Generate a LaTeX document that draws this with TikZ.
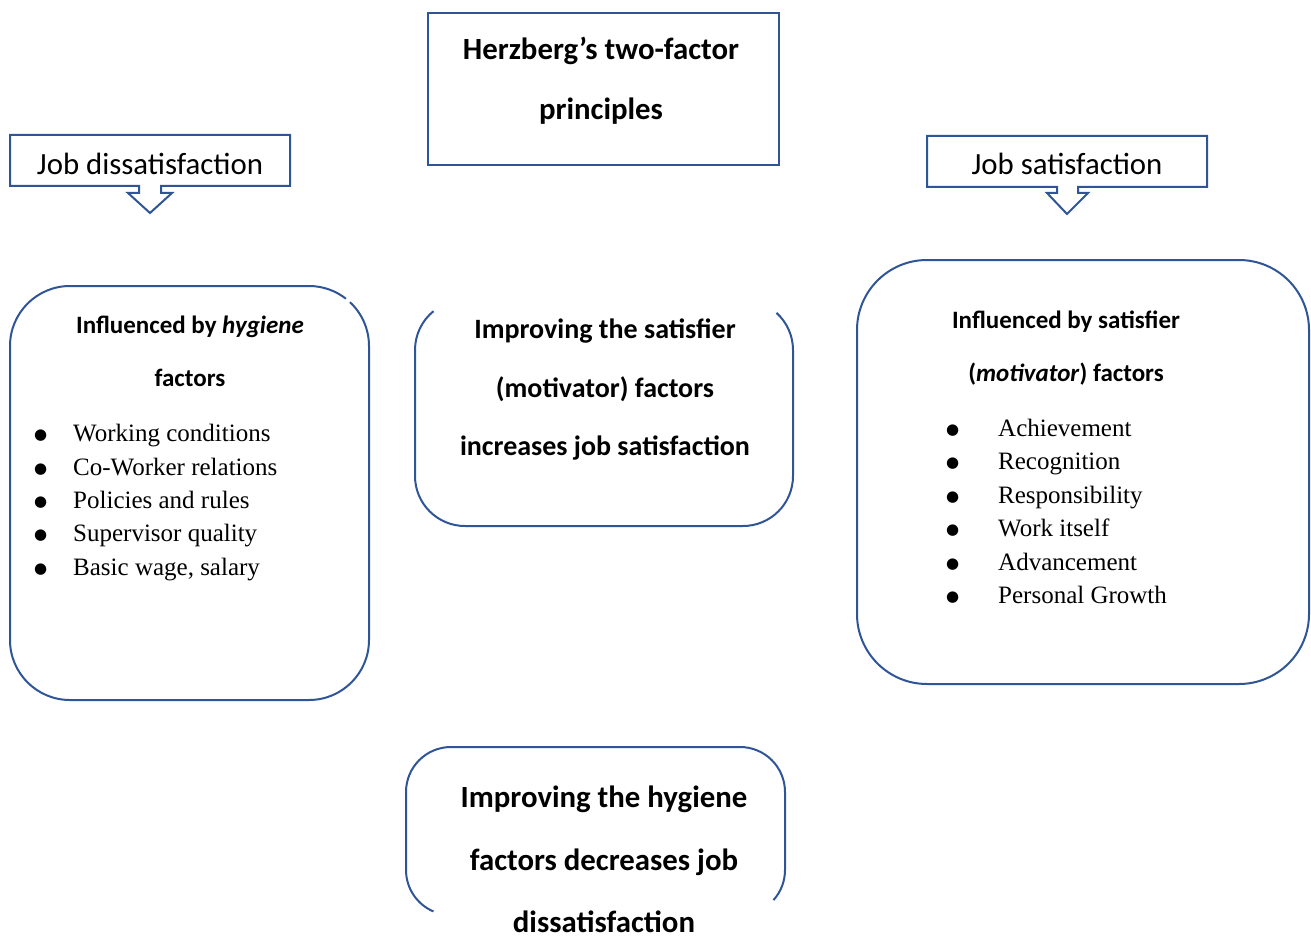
\documentclass[tikz,border=0pt]{standalone}
\usepackage{fontspec}
\setmainfont{Liberation Serif}
\newfontfamily\calib{Carlito}
\newfontfamily\dejavu{DejaVu Sans}
\usepackage{tikz}

\definecolor{frameblue}{RGB}{47,85,151}
\newcommand{\bigdot}{\raisebox{2pt}{\dejavu\fontsize{15}{15}\selectfont ●}}
\newcommand{\hbul}{\makebox[39pt][l]{\bigdot}}
\newcommand{\mbul}{\makebox[52pt][l]{\bigdot}}

\begin{document}
\begin{tikzpicture}[x=1pt,y=1pt,
		blueline/.style={draw=frameblue,line width=2pt},
		bigtxt/.style={anchor=base,inner sep=0pt,font=\calib\bfseries\fontsize{30.8}{36}\selectfont},
		midtxt/.style={anchor=base,inner sep=0pt,font=\calib\bfseries\fontsize{28}{33}\selectfont},
		headtxt/.style={anchor=base,inner sep=0pt,font=\calib\bfseries\fontsize{25}{30}\selectfont},
		calltxt/.style={anchor=base,inner sep=0pt,font=\calib\fontsize{30.8}{36}\selectfont},
		item/.style={anchor=base west,inner sep=0pt,font=\fontsize{25}{30}\selectfont}]
			
			\useasboundingbox (0,0) rectangle (1311,-936);
			
			% title
			\draw[blueline] (428,-13) rectangle (779,-165);
			\node[bigtxt] (ttl1) at (601,-60) {Herzberg’s two-factor};
			\node[bigtxt] (ttl2) at (601,-120) {principles};
			
			% callouts
			\draw[blueline] (10,-135) -- (290,-135) -- (290,-186) -- (161,-186) -- (161,-193) -- (172,-193) -- (150,-213) -- (128,-193) -- (139,-193) -- (139,-186) -- (10,-186) -- cycle;
			\node[calltxt] (dis) at (150,-175) {Job dissatisfaction};
			\draw[blueline] (927,-136) -- (1207,-136) -- (1207,-187) -- (1078,-187) -- (1078,-193) -- (1088,-193) -- (1067,-214) -- (1047,-193) -- (1057,-193) -- (1057,-187) -- (927,-187) -- cycle;
			\node[calltxt] (sat) at (1067,-175) {Job satisfaction};
			
			% hygiene box
			\draw[blueline] (309,-346) ++(52:60) arc[start angle=52,end angle=90,radius=60] -- (70,-286) arc[start angle=90,end angle=180,radius=60] -- (10,-640) arc[start angle=180,end angle=270,radius=60] -- (309,-700) arc[start angle=270,end angle=360,radius=60] -- (369,-346) arc[start angle=0,end angle=47,radius=60];
			\node[headtxt] (hyg1) at (190,-333) {Influenced by \textit{hygiene}};
			\node[headtxt] (hyg2) at (190,-386) {factors};
			\node[item] (h1) at (34,-441.7) {\hbul Working conditions};
			\node[item] (h2) at (34,-475.1) {\hbul Co-Worker relations};
			\node[item] (h3) at (34,-508.5) {\hbul Policies and rules};
			\node[item] (h4) at (34,-541.9) {\hbul Supervisor quality};
			\node[item] (h5) at (34,-575.3) {\hbul Basic wage, salary};
			
			% middle box
			\draw[blueline] (465,-350) ++(129:50) arc[start angle=129,end angle=180,radius=50] -- (415,-476) arc[start angle=180,end angle=270,radius=50] -- (743,-526) arc[start angle=270,end angle=360,radius=50] -- (793,-350) arc[start angle=0,end angle=48,radius=50];
			\node[midtxt] (inc1) at (605,-338) {Improving the satisfier};
			\node[midtxt] (inc2) at (605,-397) {(motivator) factors};
			\node[midtxt] (inc3) at (605,-455) {increases job satisfaction};
			
			% motivator box
			\draw[blueline,rounded corners=70pt] (857,-260) rectangle (1309,-684);
			\node[headtxt] (mot1) at (1066,-328) {Influenced by satisfier};
			\node[headtxt] (mot2) at (1066,-381) {(\textit{motivator}) factors};
			\node[item] (m1) at (946,-436) {\mbul Achievement};
			\node[item] (m2) at (946,-469.5) {\mbul Recognition};
			\node[item] (m3) at (946,-503) {\mbul Responsibility};
			\node[item] (m4) at (946,-536.5) {\mbul Work itself};
			\node[item] (m5) at (946,-570) {\mbul Advancement};
			\node[item] (m6) at (946,-603.5) {\mbul Personal Growth};
			
			% bottom box
			\draw[blueline] (451,-870) ++(247:45) arc[start angle=247,end angle=180,radius=45] -- (406,-792) arc[start angle=180,end angle=90,radius=45] -- (740,-747) arc[start angle=90,end angle=0,radius=45] -- (785,-870) arc[start angle=0,end angle=-42,radius=45];
			\node[bigtxt] (dec1) at (604,-807) {Improving the hygiene};
			\node[bigtxt] (dec2) at (604,-870) {factors decreases job};
			\node[bigtxt] (dec3) at (604,-932) {dissatisfaction};
			
		\end{tikzpicture}
\end{document}
